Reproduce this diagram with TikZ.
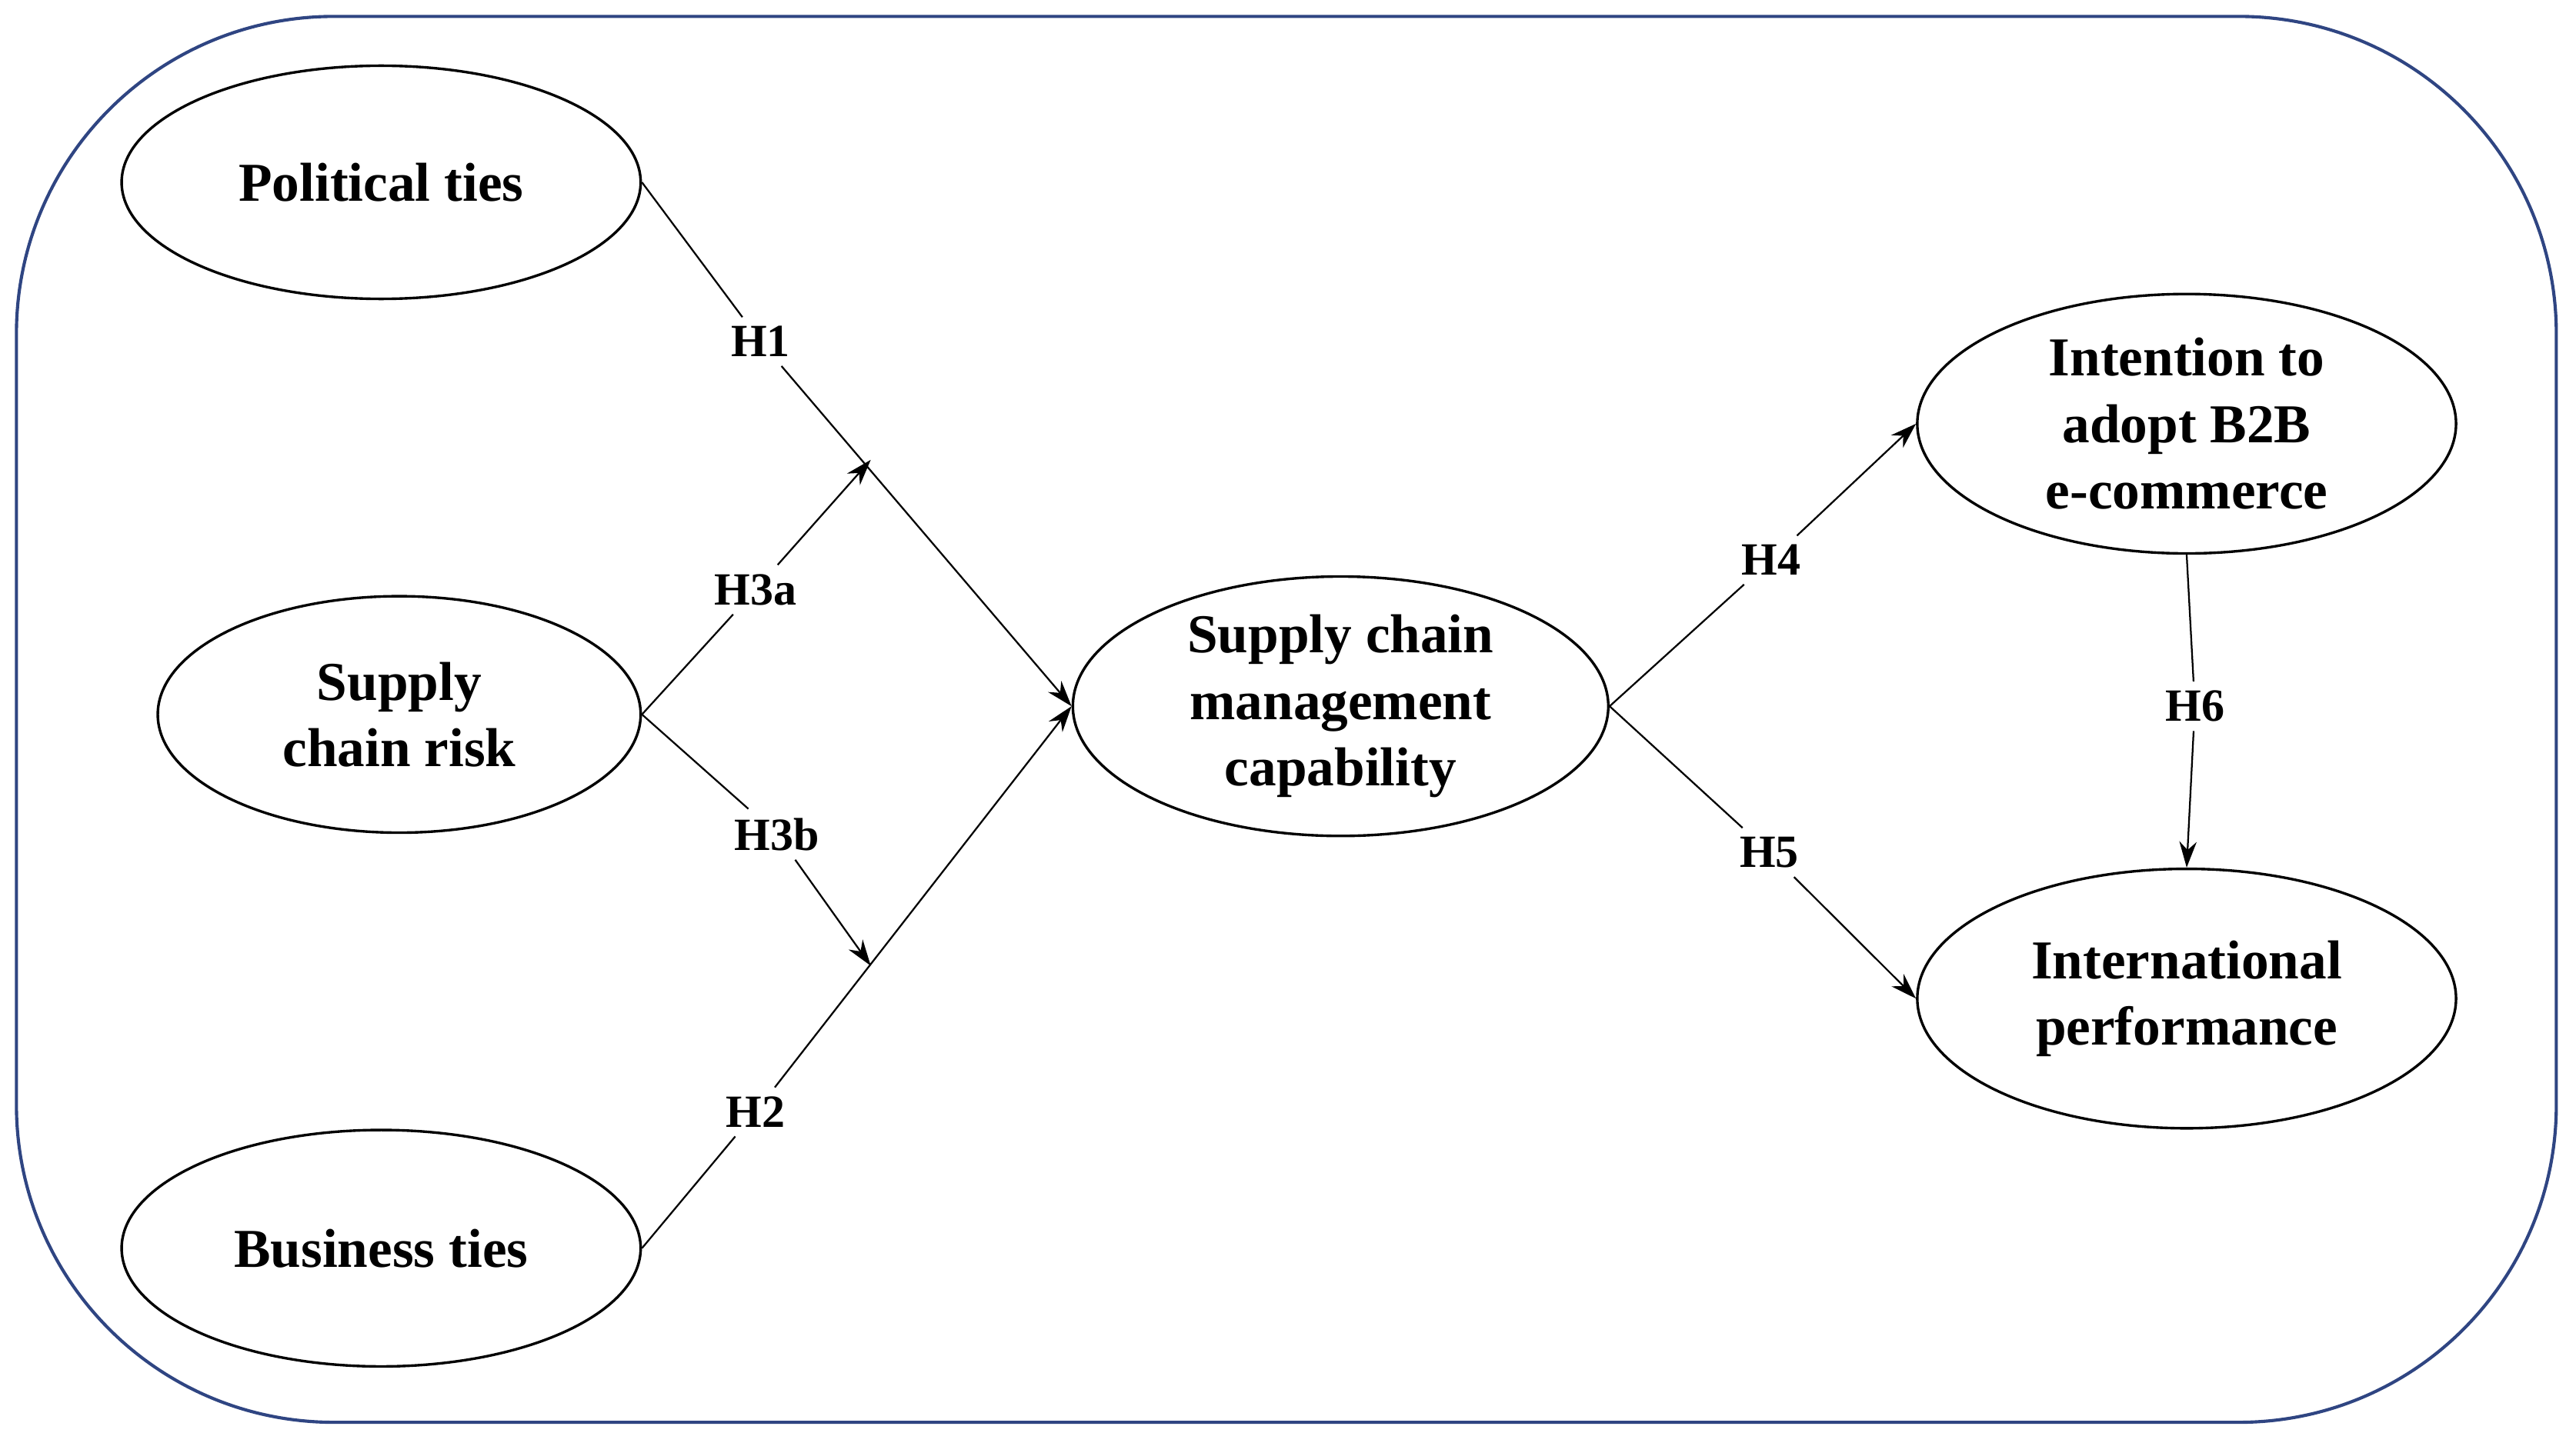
\documentclass[tikz,border=0pt]{standalone}
\usepackage{fontspec}
\setmainfont{Liberation Serif}
\usetikzlibrary{shapes.geometric,arrows.meta}
\begin{document}
\begin{tikzpicture}[x=0.02cm,y=-0.02cm,
  el/.style={ellipse,draw,line width=0.9pt,inner sep=0pt,font=\fontsize{19}{23}\selectfont\bfseries,align=center},
  lab/.style={font=\fontsize{16}{19}\selectfont\bfseries,inner sep=3pt},
  ln/.style={line width=0.6pt},
  ar/.style={ln,-{Stealth[length=9pt,width=6pt]}}]
\useasboundingbox (0,0) rectangle (1568,878.6);
\draw[line width=1.1pt,color={rgb,255:red,47;green,69;blue,130},rounded corners=110] (10,10) rectangle (1556,866);
\node[el,minimum width=316\pgfplotsunitxlength,minimum width=6.32cm,minimum height=2.84cm] (pt) at (232,111) {Political ties};
\node[el,minimum width=5.88cm,minimum height=2.88cm] (scr) at (243,435) {Supply\\chain risk};
\node[el,minimum width=6.32cm,minimum height=2.88cm] (bt) at (232,760) {Business ties};
\node[el,minimum width=6.52cm,minimum height=3.16cm] (scm) at (816,430) {Supply chain\\management\\capability};
\node[el,minimum width=6.56cm,minimum height=3.16cm] (int) at (1331,258) {Intention to\\adopt B2B\\e-commerce};
\node[el,minimum width=6.56cm,minimum height=3.16cm] (ip) at (1331,608) {International\\performance};
\node[lab] (h1) at (463,208) {H1};
\node[lab] (h3a) at (460,359) {H3a};
\node[lab] (h3b) at (473,508) {H3b};
\node[lab] (h2) at (460,677) {H2};
\node[lab] (h4) at (1078,341) {H4};
\node[lab] (h5) at (1077,519) {H5};
\node[lab] (h6) at (1336,430) {H6};
\coordinate (m1) at (530,280);
\coordinate (m2) at (530,588);
\draw[ln] (pt.east) -- (h1);
\draw[ar] (h1) -- (scm.west);
\draw[ln] (scr.east) -- (h3a);
\draw[ar] (h3a) -- (m1);
\draw[ln] (scr.east) -- (h3b);
\draw[ar] (h3b) -- (m2);
\draw[ln] (bt.east) -- (h2);
\draw[ar] (h2) -- (scm.west);
\draw[ln] (scm.east) -- (h4);
\draw[ar] (h4) -- (int.west);
\draw[ln] (scm.east) -- (h5);
\draw[ar] (h5) -- (ip.west);
\draw[ln] (int.south) -- (h6);
\draw[ar] (h6) -- (ip.north);
\end{tikzpicture}
\end{document}
